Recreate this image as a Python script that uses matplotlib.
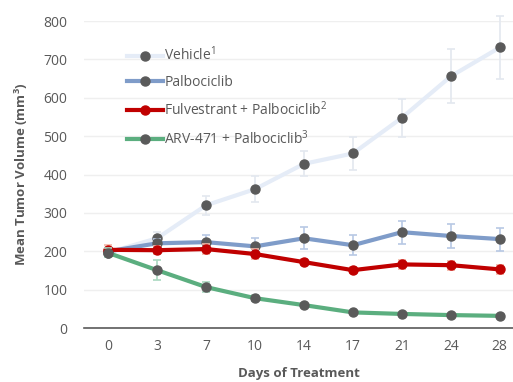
import numpy as np
import matplotlib.pyplot as plt

plt.rcParams['font.family'] = ['Open Sans', 'DejaVu Sans']

## Data
days = ['0', '3', '7', '10', '14', '17', '21', '24', '28']

vehicle = [197, 234, 320, 362, 428, 455, 548, 656, 731]
vehicle_err = [12, 16, 24, 34, 33, 42, 49, 70, 82]

palbo = [200, 221, 224, 213, 234, 216, 250, 240, 232]
palbo_err = [10, 12, 18, 22, 29, 26, 30, 30, 30]

fulv = [204, 203, 206, 193, 172, 151, 166, 164, 153]
fulv_err = [12, 10, 12, 12, 8, 8, 12, 12, 12]

arv = [196, 151, 107, 78, 60, 41, 37, 34, 32]
arv_err = [12, 26, 13, 8, 5, 4, 3, 3, 3]

labels = ['Vehicle$^{1}$', 'Palbociclib', 'Fulvestrant + Palbociclib$^{2}$',
          'ARV-471 + Palbociclib$^{3}$']

## Styling
line_cols = ['#E5ECF7', '#7F9CC9', '#C00000', '#5BAE7F']
err_cols = ['#E3E8EF', '#B7C8E4', '#F5B7A8', '#A9D8C0']
mark_cols = ['#5A5A5A', '#5A5A5A', '#C00000', '#5A5A5A']
txt_col = '#595959'

plt.rcParams['mathtext.fontset'] = 'custom'
plt.rcParams['mathtext.rm'] = 'Open Sans'
plt.rcParams['mathtext.default'] = 'regular'

x = np.arange(len(days))
fig = plt.figure(figsize=(5.13, 3.82), dpi=100)
ax = fig.add_axes([0.164, 0.141, 0.836, 0.804])

series = [(vehicle, vehicle_err), (palbo, palbo_err), (fulv, fulv_err), (arv, arv_err)]
for k, (y, e) in enumerate(series):
    ax.errorbar(x, y, yerr=e, fmt='none', ecolor=err_cols[k], elinewidth=1.2,
                capsize=3, capthick=1.2, zorder=2 + k, clip_on=False)
    ax.plot(x, y, color=line_cols[k], lw=3, marker='o', ms=6.5,
            mfc=mark_cols[k], mec=mark_cols[k], label=labels[k], zorder=3 + k,
            clip_on=False)

ax.set_xlim(-0.49, 8.27)
ax.set_ylim(0, 800)
ax.set_yticks(np.arange(0, 801, 100))
ax.set_xticks(x)
ax.set_xticklabels(days)
ax.grid(axis='y', color='#EFEFEF', lw=1)
ax.set_axisbelow(True)
for s in ['top', 'right', 'left']:
    ax.spines[s].set_visible(False)
ax.spines['bottom'].set_color('#5A5A5A')
ax.spines['bottom'].set_linewidth(1.2)
ax.tick_params(length=0, colors=txt_col, labelsize=10, pad=8)
ax.tick_params(axis='y', pad=12)

ax.set_xlabel('Days of Treatment', fontsize=9.5, fontweight='bold', color=txt_col,
              labelpad=9.5)
ax.set_ylabel('Mean Tumor Volume (mm$^{3}$)', fontsize=9.5, fontweight='bold',
              color=txt_col, labelpad=10)

leg = ax.legend(loc='upper left', bbox_to_anchor=(0.07, 0.96), frameon=False,
                fontsize=10, handlelength=2.6, handletextpad=0.1,
                labelspacing=0.75, labelcolor=txt_col)

fig.savefig('out.png', dpi=100)
